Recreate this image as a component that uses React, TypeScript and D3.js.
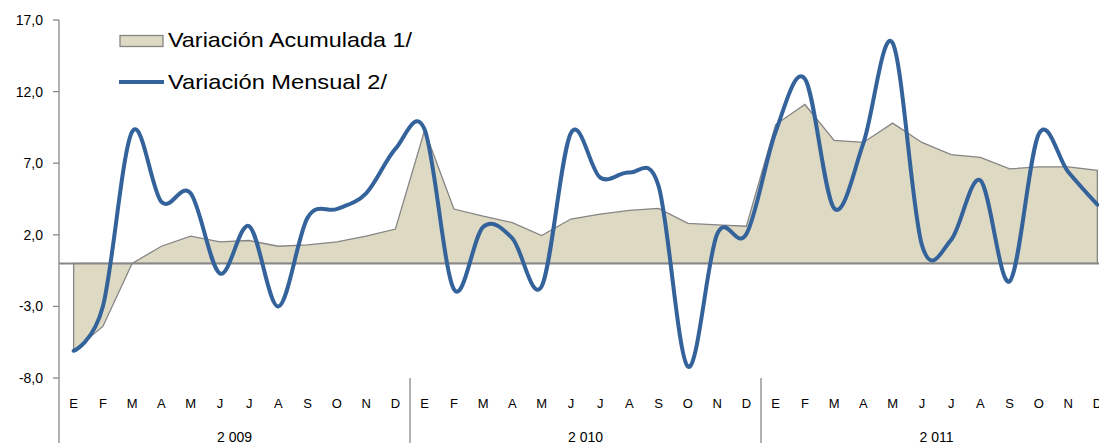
import React from "react";
import * as d3 from "d3";

const months = ["E", "F", "M", "A", "M", "J", "J", "A", "S", "O", "N", "D"];
const years = ["2 009", "2 010", "2 011"];
const yTicks = [-8, -3, 2, 7, 12, 17];

const acumulada = [
  -6.1, -4.4, 0.0, 1.2, 1.9, 1.5, 1.6, 1.2, 1.3, 1.5, 1.9, 2.4,
  9.3, 3.8, 3.3, 2.85, 1.95, 3.1, 3.45, 3.7, 3.85, 2.8, 2.7, 2.6,
  9.7, 11.1, 8.6, 8.45, 9.8, 8.45, 7.6, 7.4, 6.6, 6.75, 6.75, 6.5,
];
const mensual = [
  -6.1, -3.0, 9.2, 4.3, 4.9, -0.7, 2.6, -3.0, 3.2, 3.8, 4.9, 8.0,
  9.35, -1.8, 2.55, 1.75, -1.6, 9.1, 6.0, 6.35, 5.4, -7.2, 2.05, 2.05,
  9.2, 12.9, 3.85, 8.4, 15.4, 1.3, 1.65, 5.8, -1.25, 9.05, 6.4, 4.1,
];

export default function App() {
  const W = 1099, H = 443;
  const left = 59, band = 29.25;
  const n = mensual.length;
  const x = d3.scaleBand<number>().domain(d3.range(n)).range([left, left + n * band]).padding(0);
  const cx = (i: number) => (x(i) as number) + x.bandwidth() / 2;
  const y = d3.scaleLinear().domain([-8, 17]).range([378, 20]);

  const areaPath = d3.area<number>().x((_, i) => cx(i)).y0(y(0)).y1((d) => y(d))(acumulada) || "";
  const linePath = d3.line<number>().x((_, i) => cx(i)).y((d) => y(d)).curve(d3.curveCardinal.tension(0))(mensual) || "";

  const font = "'Liberation Sans', Arial, sans-serif";
  return (
    <svg width={W} height={H} style={{ position: "absolute", left: 0, top: 0, background: "#fff" }}>
      <path d={areaPath} fill="#DDD9C3" stroke="#858585" strokeWidth={1.3} />
      <line x1={left} x2={left + n * band} y1={y(0)} y2={y(0)} stroke="#878787" strokeWidth={2} />
      <path d={linePath} fill="none" stroke="#34629A" strokeWidth={4} strokeLinejoin="round" strokeLinecap="round" />
      <line x1={left} x2={left} y1={y(17)} y2={H} stroke="#878787" strokeWidth={1.3} />
      {yTicks.map((t) => (
        <g key={t}>
          <line x1={left - 6} x2={left} y1={y(t)} y2={y(t)} stroke="#878787" strokeWidth={1.3} />
          <text x={43} y={y(t)} dy="0.35em" textAnchor="end" fontFamily={font} fontSize={14} fill="#000">
            {t.toFixed(1).replace(".", ",")}
          </text>
        </g>
      ))}
      {d3.range(1, years.length + 1).map((k) => (
        <line key={k} x1={left + k * 12 * band} x2={left + k * 12 * band} y1={378} y2={H} stroke="#878787" strokeWidth={1.3} />
      ))}
      {d3.range(n).map((i) => (
        <text key={i} x={cx(i)} y={408} textAnchor="middle" fontFamily={font} fontSize={13} fill="#000">
          {months[i % 12]}
        </text>
      ))}
      {years.map((yr, k) => (
        <text key={yr} x={left + (k * 12 + 6) * band} y={442} textAnchor="middle" fontFamily={font} fontSize={14} fill="#000">
          {yr}
        </text>
      ))}
      <rect x={120} y={35.5} width={43} height={11} fill="#DDD9C3" stroke="#858585" strokeWidth={1.3} />
      <text x={168} y={46.5} fontFamily={font} fontSize={21} fill="#000" textLength={244} lengthAdjust="spacingAndGlyphs">Variación Acumulada 1/</text>
      <line x1={119} x2={164} y1={82} y2={82} stroke="#34629A" strokeWidth={4} />
      <text x={168} y={89} fontFamily={font} fontSize={21} fill="#000" textLength={219} lengthAdjust="spacingAndGlyphs">Variación Mensual 2/</text>
    </svg>
  );
}
